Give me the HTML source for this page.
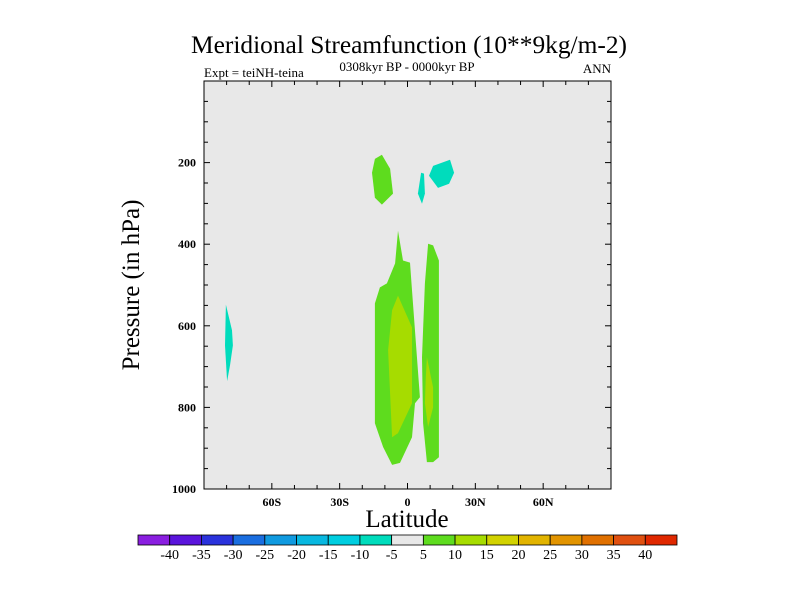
<!DOCTYPE html>
<html><head><meta charset="utf-8"><style>
body{margin:0;background:#fff;}
svg text{font-family:"Liberation Serif",serif;fill:#000;}
</style></head><body>
<svg width="800" height="600" viewBox="0 0 800 600">
<text x="409" y="53" font-size="25.5" text-anchor="middle" textLength="436" lengthAdjust="spacingAndGlyphs">Meridional Streamfunction (10**9kg/m-2)</text>
<text x="407" y="71" font-size="13" text-anchor="middle">0308kyr BP - 0000kyr BP</text>
<text x="204" y="77" font-size="13">Expt = teiNH-teina</text>
<text x="611" y="73" font-size="13" text-anchor="end">ANN</text>
<rect x="204" y="81" width="407" height="408" fill="#e8e8e8"/>
<g id="contours"></g>
<rect x="204" y="81" width="407" height="408" fill="none" stroke="#000" stroke-width="1"/>
<g id="axes"></g>
<text x="407" y="527" font-size="25" text-anchor="middle">Latitude</text>
<text transform="translate(139,285) rotate(-90)" font-size="25" text-anchor="middle">Pressure (in hPa)</text>
<g id="cbar"></g>
</svg>
<script>
const latTicks=[-60,-30,0,30,60];
const latTickLabels=["60S","30S","0","30N","60N"];
const presTicks=[200,400,600,800,1000];
const cbarLevels=[-40,-35,-30,-25,-20,-15,-10,-5,5,10,15,20,25,30,35,40];
const cbarColors=["#8a1ee0","#5a14dc","#2a32dc","#1a6ee0","#109ae0","#08b8e0","#00cee0","#00dcbc","#e8e8e8","#5edc1e","#a6dc00","#d2d200","#e2b400","#e29400","#e07000","#e05010","#e02800"];
// contour polygons: [lat, pressure] pairs
const polyGreenMainLat=[-4.2,-2.0,1.1,2.0,5.5,3.3,2.0,-3.3,-6.8,-10.8,-14.4,-14.4,-12.2,-9.1,-5.5];
const polyGreenMainP=[367,440,445,513,775,790,873,936,941,897,839,545,506,496,447];
const polyYellowMainLat=[-4.2,2.0,2.0,-4.2,-6.8,-8.6,-6.8];
const polyYellowMainP=[526,604,790,863,873,660,562];
const polyGreenRightLat=[9.1,11.3,13.9,13.9,11.3,8.6,6.9,6.4,7.7];
const polyGreenRightP=[399,403,440,922,934,934,839,677,496];
const polyYellowRightLat=[8.6,11.3,11.3,9.1,7.7,8.1];
const polyYellowRightP=[677,751,800,848,790,726];
const polyGreenTopLat=[-11.3,-7.7,-6.4,-11.3,-14.4,-15.7,-14.4];
const polyGreenTopP=[181,215,276,303,286,225,191];
const polyCyanSmallLat=[6.0,7.3,7.7,6.4,4.6];
const polyCyanSmallP=[225,227,276,301,276];
const polyCyanRightLat=[11.3,18.8,20.6,18.4,13.5,9.5];
const polyCyanRightP=[208,193,225,252,262,232];
const polyCyanLeftLat=[-80.3,-77.6,-77.2,-78.5,-79.8,-80.7];
const polyCyanLeftP=[548,611,648,697,736,648];

const X0=204,X1=611,Y0=81,Y1=489;
const xs=lat=>X0+(lat+90)/180*(X1-X0);
const ys=p=>Y0+p/1000*(Y1-Y0);
const NS="http://www.w3.org/2000/svg";
function mk(tag,attrs,parent){const e=document.createElementNS(NS,tag);for(const k in attrs)e.setAttribute(k,attrs[k]);parent.appendChild(e);return e;}
const cg=document.getElementById('contours');
const polys=[
 [polyGreenMainLat,polyGreenMainP,"#5edc1e","contour-positive-5-main"],
 [polyYellowMainLat,polyYellowMainP,"#a6dc00","contour-positive-10-main"],
 [polyGreenRightLat,polyGreenRightP,"#5edc1e","contour-positive-5-right"],
 [polyYellowRightLat,polyYellowRightP,"#a6dc00","contour-positive-10-right"],
 [polyGreenTopLat,polyGreenTopP,"#5edc1e","contour-positive-5-upper"],
 [polyCyanSmallLat,polyCyanSmallP,"#00dcbc","contour-negative-5-small"],
 [polyCyanRightLat,polyCyanRightP,"#00dcbc","contour-negative-5-upper-right"],
 [polyCyanLeftLat,polyCyanLeftP,"#00dcbc","contour-negative-5-left"]];
polys.forEach(([la,pp,c,n])=>{
 const pts=la.map((l,i)=>xs(l).toFixed(1)+","+ys(pp[i]).toFixed(1)).join(" ");
 const e=mk('polygon',{points:pts,fill:c},cg);
 
 
});
const ax=document.getElementById('axes');
for(let l=-80;l<=80;l+=10){
 const major=latTicks.includes(l);const len=major?6:4;const x=xs(l);
 mk('line',{x1:x,x2:x,y1:Y1,y2:Y1-len,stroke:"#000"},ax);
 mk('line',{x1:x,x2:x,y1:Y0,y2:Y0+len,stroke:"#000"},ax);
}
latTicks.forEach((l,i)=>{
 const t=mk('text',{x:xs(l),y:506,'font-size':12,'text-anchor':'middle','font-weight':'bold'},ax);
 t.textContent=latTickLabels[i];
 
 
});
for(let p=50;p<1000;p+=50){
 const major=presTicks.includes(p);const len=major?6:4;const y=ys(p);
 mk('line',{x1:X0,x2:X0+len,y1:y,y2:y,stroke:"#000"},ax);
 mk('line',{x1:X1,x2:X1-len,y1:y,y2:y,stroke:"#000"},ax);
}
presTicks.forEach(p=>{
 const t=mk('text',{x:196,y:ys(p)+4,'font-size':12,'text-anchor':'end','font-weight':'bold'},ax);
 t.textContent=p;
 
 
});
const cb=document.getElementById('cbar');
const cx0=138,cx1=677,cy=535,ch=10,bw=(cx1-cx0)/cbarColors.length;
cbarColors.forEach((c,i)=>{
 const r=mk('rect',{x:cx0+i*bw,y:cy,width:bw,height:ch,fill:c,stroke:"#000",'stroke-width':0.8},cb);
 
 
});
cbarLevels.forEach((v,i)=>{
 const t=mk('text',{x:cx0+(i+1)*bw,y:559,'font-size':14,'text-anchor':'middle'},cb);
 t.textContent=v;
 
 
});
</script>
</body></html>
